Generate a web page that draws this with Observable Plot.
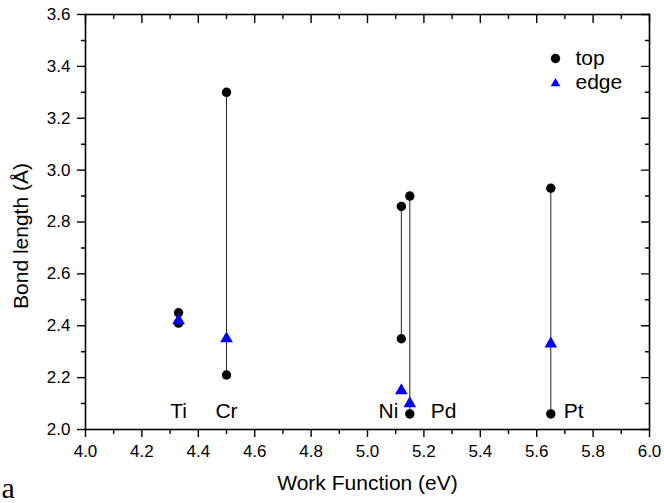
<!DOCTYPE html>
<html>
<head>
<meta charset="utf-8">
<script src="https://cdn.jsdelivr.net/npm/d3@7"></script>
<script src="https://cdn.jsdelivr.net/npm/@observablehq/plot@0.6"></script>
<style>
  html, body { margin: 0; padding: 0; background: #fff; }
  #chart { width: 664px; height: 503px; overflow: hidden; }
</style>
</head>
<body>
<div id="chart"></div>
<script>
// Metal contacts and their work functions (eV)
const metals = ["Ti", "Cr", "Ni", "Pd", "Pt"];
const workFunction = [4.33, 4.50, 5.12, 5.15, 5.65];

// Bond lengths (Å): two "top" site values per metal, one "edge" site value
const topUpper = [2.45, 3.30, 2.86, 2.90, 2.93];
const topLower = [2.41, 2.21, 2.35, 2.06, 2.06];
const edgeValues = [2.42, 2.35, 2.15, 2.10, 2.33];

// Axis ticks
const xMajor = [4.0, 4.2, 4.4, 4.6, 4.8, 5.0, 5.2, 5.4, 5.6, 5.8, 6.0];
const xMinor = [4.1, 4.3, 4.5, 4.7, 4.9, 5.1, 5.3, 5.5, 5.7, 5.9];
const yMajor = [2.0, 2.2, 2.4, 2.6, 2.8, 3.0, 3.2, 3.4, 3.6];
const yMinor = [2.1, 2.3, 2.5, 2.7, 2.9, 3.1, 3.3, 3.5];

const rows = metals.map((m, i) => ({
  metal: m, wf: workFunction[i], hi: topUpper[i], lo: topLower[i], edge: edgeValues[i]
}));
const topPoints = rows.flatMap(r => [{wf: r.wf, v: r.hi}, {wf: r.wf, v: r.lo}]);

// Where each metal's name sits relative to its column
const labelPlacement = {
  Ti: {textAnchor: "middle", dx: 0},
  Cr: {textAnchor: "middle", dx: 0},
  Ni: {textAnchor: "end", dx: -3},
  Pd: {textAnchor: "start", dx: 21},
  Pt: {textAnchor: "start", dx: 13}
};

const W = 664, H = 503;
const M = {left: 85, right: 15, top: 14, bottom: 74};
const font = "'Liberation Sans', Arial, sans-serif";

// a plain tick segment of length l, pointing up (rotated per edge)
const tickShape = {draw(context, l) { context.moveTo(0, 0); context.lineTo(0, -l); }};
const tickStyle = {stroke: "#000", strokeWidth: 1.4, shape: tickShape, anchor: "start"};

// inward tick segments along the top and right edges
const ticksTop = (v, len) => Plot.vector(v, {x: d => d, y: 3.6, length: len, rotate: 180, ...tickStyle});
const ticksRight = (v, len) => Plot.vector(v, {x: 6.0, y: d => d, length: len, rotate: -90, ...tickStyle});

const chart = Plot.plot({
  width: W,
  height: H,
  marginLeft: M.left,
  marginRight: M.right,
  marginTop: M.top,
  marginBottom: M.bottom,
  style: {fontFamily: font, fontSize: "17px", color: "#000", background: "#fff", overflow: "visible"},
  x: {domain: [4.0, 6.0]},
  y: {domain: [2.0, 3.6]},
  marks: [
    // tick labels with outward major ticks
    Plot.axisX({anchor: "bottom", ticks: xMajor, tickSize: 8, tickPadding: 7, tickFormat: d3.format(".1f"), label: null, strokeWidth: 1.4}),
    Plot.axisY({anchor: "left", ticks: yMajor, tickSize: 8, tickPadding: 7, tickFormat: d3.format(".1f"), label: null, strokeWidth: 1.4}),
    // outward minor ticks: start outside and run to the frame
    Plot.vector(xMinor, {x: d => d, y: 2.0, length: 4, rotate: 0, dy: 4, ...tickStyle}),
    Plot.vector(yMinor, {x: 4.0, y: d => d, length: 4, rotate: 90, dx: -4, ...tickStyle}),
    // inward ticks on top and right edges
    ticksTop(xMajor, 8),
    ticksTop(xMinor, 4),
    ticksRight(yMajor, 8),
    ticksRight(yMinor, 4),
    Plot.frame({stroke: "#000", strokeWidth: 1.6}),

    // vertical connectors between the two top-site values
    Plot.ruleX(rows, {x: "wf", y1: "lo", y2: "hi", stroke: "#222", strokeWidth: 1}),
    // top-site bond lengths
    Plot.dot(topPoints, {x: "wf", y: "v", r: 4.7, fill: "#000", stroke: "none"}),
    // edge-site bond lengths
    Plot.dot(rows, {x: "wf", y: "edge", symbol: "triangle", r: 4.7, fill: "#0000ff", stroke: "none"}),

    // metal names
    ...metals.map((m, i) => Plot.text([rows[i]], {
      x: "wf", y: 2.0, text: "metal", fontSize: 21, fill: "#000",
      lineAnchor: "bottom", dy: -12,
      textAnchor: labelPlacement[m].textAnchor, dx: labelPlacement[m].dx
    })),

    // legend
    Plot.dot(["top"], {frameAnchor: "top-right", dx: -94, dy: 44, r: 4.7, fill: "#000", stroke: "none"}),
    Plot.text(["top"], {frameAnchor: "top-right", dx: -74, dy: 44, textAnchor: "start", lineAnchor: "middle", fontSize: 21, fill: "#000"}),
    Plot.dot(["edge"], {frameAnchor: "top-right", dx: -94, dy: 69, symbol: "triangle", r: 3.6, fill: "#0000ff", stroke: "none"}),
    Plot.text(["edge"], {frameAnchor: "top-right", dx: -74, dy: 68, textAnchor: "start", lineAnchor: "middle", fontSize: 21, fill: "#000"}),

    // axis titles
    Plot.text(["Work Function (eV)"], {frameAnchor: "bottom", lineAnchor: "bottom", textAnchor: "middle", dy: 60, fontSize: 21, fill: "#000"}),
    Plot.text(["Bond length (Å)"], {frameAnchor: "left", rotate: -90, textAnchor: "middle", lineAnchor: "middle", dx: -64, dy: 14, fontSize: 21, fill: "#000"}),

    // panel letter
    Plot.text(["a"], {frameAnchor: "bottom-left", lineAnchor: "bottom", textAnchor: "start", dx: -84, dy: 68, fontSize: 30, fontFamily: "'Liberation Serif', 'Times New Roman', serif", fill: "#000"})
  ]
});

document.getElementById("chart").appendChild(chart);
</script>
</body>
</html>
